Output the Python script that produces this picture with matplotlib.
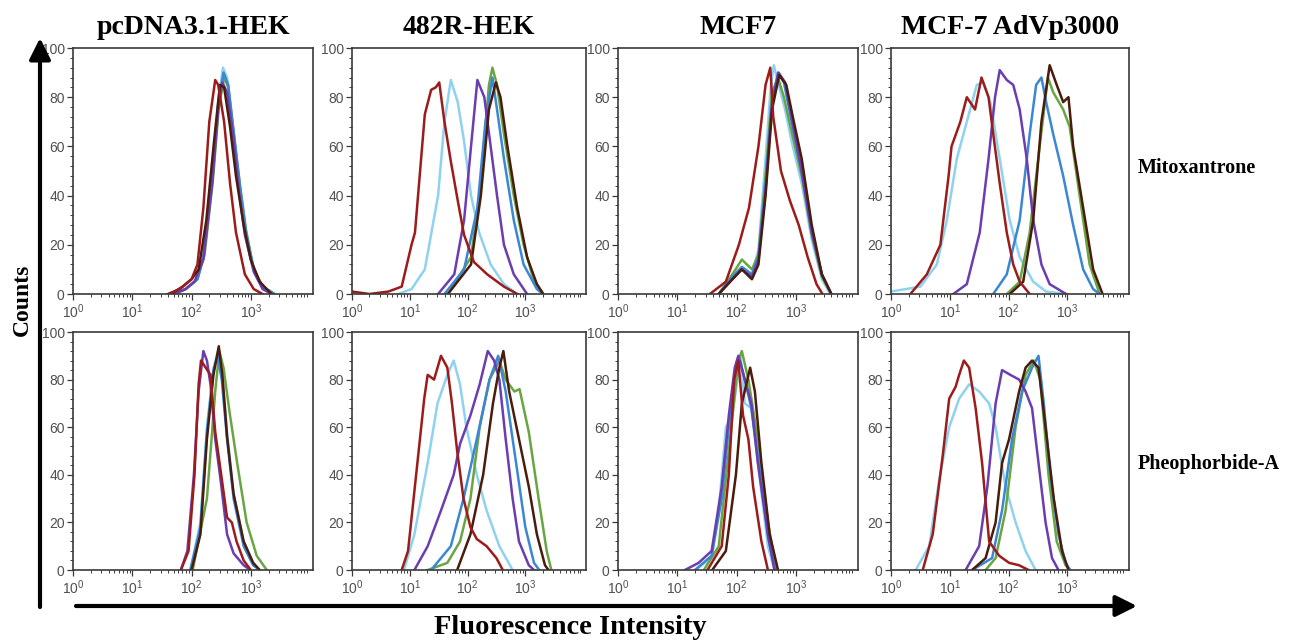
"""
Flow cytometry histograms: mitoxantrone / pheophorbide-A efflux
in pcDNA3.1-HEK, 482R-HEK, MCF7 and MCF-7 AdVp3000 cells.
Curves are read off the published figure as (log10 intensity, counts).
"""

import matplotlib
matplotlib.use("Agg")
import matplotlib.pyplot as plt
from matplotlib.patches import FancyArrowPatch
from matplotlib.ticker import MultipleLocator, LogLocator, FixedLocator, NullFormatter

plt.rcParams["font.family"] = ["Liberation Sans", "DejaVu Sans"]
plt.rcParams["mathtext.fontset"] = "custom"
plt.rcParams["mathtext.rm"] = "Liberation Sans"
plt.rcParams["mathtext.it"] = "Liberation Sans"

# column / row labels
cell_lines = ["pcDNA3.1-HEK", "482R-HEK", "MCF7", "MCF-7 AdVp3000"]
substrates = ["Mitoxantrone", "Pheophorbide-A"]
x_ticklabels = [r"$10^0$", r"$10^1$", r"$10^2$", r"$10^3$"]

COLORS = {
    "lightblue": "#8fd2ef",
    "green": "#6aa544",
    "blue": "#3b87d4",
    "purple": "#6a3db0",
    "brown": "#4a1c0c",
    "red": "#9c1c1c",
}

# --- Mitoxantrone row ---
pcdna_mito = {
    "lightblue": ([1.7, 1.9, 2.1, 2.2, 2.35, 2.45, 2.53, 2.6, 2.7, 2.8, 2.9, 3.05, 3.2, 3.4],
                  [0, 2, 6, 16, 48, 78, 92, 88, 66, 44, 26, 10, 3, 0]),
    "green": ([1.7, 1.9, 2.1, 2.22, 2.36, 2.46, 2.55, 2.62, 2.72, 2.82, 2.92, 3.05, 3.2, 3.4],
              [0, 2, 6, 16, 46, 76, 88, 84, 64, 44, 26, 10, 3, 0]),
    "blue": ([1.7, 1.9, 2.1, 2.2, 2.35, 2.45, 2.54, 2.62, 2.72, 2.82, 2.92, 3.05, 3.2, 3.4],
             [0, 2, 6, 15, 47, 77, 90, 85, 64, 43, 25, 10, 3, 0]),
    "purple": ([1.7, 1.9, 2.05, 2.2, 2.35, 2.45, 2.52, 2.6, 2.7, 2.8, 2.9, 3.05, 3.2, 3.35],
               [0, 2, 5, 14, 45, 75, 86, 82, 65, 42, 24, 9, 2, 0]),
    "brown": ([1.65, 1.85, 2.0, 2.12, 2.25, 2.38, 2.48, 2.55, 2.65, 2.75, 2.88, 3.0, 3.15, 3.35],
              [0, 3, 6, 10, 30, 62, 85, 84, 68, 48, 28, 14, 5, 0]),
    "red": ([1.6, 1.8, 2.0, 2.1, 2.2, 2.3, 2.4, 2.45, 2.55, 2.65, 2.75, 2.9, 3.05, 3.2],
            [0, 2, 6, 12, 35, 70, 87, 85, 70, 45, 25, 8, 2, 0]),
}

hek482_mito = {
    "lightblue": ([0.8, 1.03, 1.26, 1.49, 1.6, 1.71, 1.83, 1.94, 2.06, 2.2, 2.4, 2.63, 2.86],
                  [0, 2, 10, 40, 70, 87, 78, 62, 40, 25, 12, 4, 0]),
    "green": ([1.66, 2.06, 2.23, 2.37, 2.43, 2.51, 2.63, 2.8, 2.97, 3.14, 3.31],
              [0, 15, 45, 85, 92, 85, 65, 40, 20, 6, 0]),
    "blue": ([1.6, 1.94, 2.17, 2.31, 2.43, 2.51, 2.63, 2.8, 2.97, 3.2, 3.3],
             [0, 10, 35, 70, 88, 75, 55, 30, 12, 2, 0]),
    "purple": ([1.49, 1.77, 1.94, 2.06, 2.17, 2.29, 2.4, 2.51, 2.63, 2.8, 3.03],
               [0, 8, 30, 60, 87, 80, 60, 40, 20, 8, 0]),
    "brown": ([1.66, 2.06, 2.23, 2.37, 2.49, 2.57, 2.69, 2.86, 3.03, 3.2, 3.31],
              [0, 12, 40, 75, 86, 80, 60, 35, 15, 4, 0]),
    "red": ([0.0, 0.3, 0.63, 0.86, 1.03, 1.09, 1.26, 1.37, 1.45, 1.51, 1.6, 1.71, 1.83, 1.94, 2.11, 2.34, 2.63, 2.86],
            [1, 0, 1, 3, 20, 25, 73, 83, 84, 86, 70, 54, 38, 24, 13, 8, 3, 0]),
}

mcf7_mito = {
    "lightblue": ([1.7, 1.93, 2.09, 2.26, 2.37, 2.49, 2.58, 2.63, 2.71, 2.82, 2.93, 3.1, 3.27, 3.44, 3.58],
                  [0, 7, 11, 8, 18, 55, 85, 93, 85, 75, 62, 45, 22, 6, 0]),
    "green": ([1.7, 1.93, 2.09, 2.26, 2.37, 2.49, 2.6, 2.7, 2.8, 2.93, 3.1, 3.27, 3.44, 3.6],
              [0, 8, 14, 10, 16, 48, 82, 88, 80, 66, 48, 24, 7, 0]),
    "blue": ([1.7, 1.93, 2.09, 2.26, 2.37, 2.49, 2.6, 2.7, 2.8, 2.93, 3.1, 3.27, 3.44, 3.6],
             [0, 7, 11, 8, 15, 45, 78, 90, 86, 70, 50, 25, 8, 0]),
    "purple": ([1.7, 1.93, 2.09, 2.26, 2.37, 2.49, 2.6, 2.71, 2.82, 2.93, 3.1, 3.27, 3.44, 3.6],
               [0, 6, 10, 7, 14, 42, 78, 90, 86, 72, 50, 25, 8, 0]),
    "brown": ([1.7, 1.93, 2.09, 2.26, 2.37, 2.49, 2.6, 2.72, 2.84, 2.95, 3.1, 3.27, 3.44, 3.6],
              [0, 6, 10, 6, 12, 40, 75, 89, 85, 72, 55, 28, 8, 0]),
    "red": ([1.55, 1.82, 2.04, 2.21, 2.37, 2.49, 2.57, 2.62, 2.75, 2.9, 3.05, 3.2, 3.35, 3.45],
            [0, 5, 20, 35, 60, 85, 92, 72, 50, 38, 28, 15, 4, 0]),
}

advp_mito = {
    "lightblue": ([0.0, 0.5, 0.78, 0.95, 1.12, 1.29, 1.46, 1.57, 1.69, 1.85, 2.02, 2.19, 2.42, 2.64, 2.98],
                  [1, 3, 12, 30, 55, 70, 85, 86, 78, 55, 30, 15, 5, 1, 0]),
    "green": ([1.97, 2.19, 2.36, 2.53, 2.67, 2.76, 2.93, 3.04, 3.21, 3.38, 3.55],
              [0, 5, 25, 60, 88, 82, 75, 68, 40, 12, 0]),
    "blue": ([1.74, 1.97, 2.19, 2.36, 2.47, 2.56, 2.64, 2.76, 2.93, 3.1, 3.27, 3.44, 3.55],
             [0, 8, 30, 65, 85, 88, 78, 65, 48, 28, 10, 2, 0]),
    "purple": ([1.06, 1.29, 1.51, 1.66, 1.77, 1.85, 1.97, 2.08, 2.19, 2.31, 2.42, 2.56, 2.7, 2.98],
               [0, 4, 25, 55, 80, 91, 87, 85, 75, 55, 30, 12, 4, 0]),
    "brown": ([2.02, 2.25, 2.42, 2.56, 2.7, 2.82, 2.93, 3.02, 3.1, 3.27, 3.44, 3.6],
              [0, 5, 30, 70, 93, 85, 78, 80, 60, 35, 10, 0]),
    "red": ([0.33, 0.61, 0.84, 0.98, 1.03, 1.18, 1.29, 1.43, 1.54, 1.66, 1.74, 1.85, 1.97, 2.08, 2.19, 2.36],
            [0, 8, 20, 48, 60, 70, 80, 75, 88, 80, 65, 45, 25, 12, 5, 0]),
}

# --- Pheophorbide-A row ---
pcdna_pheo = {
    "lightblue": ([1.98, 2.15, 2.26, 2.37, 2.45, 2.52, 2.6, 2.71, 2.88, 3.04, 3.15],
                  [0, 20, 60, 85, 92, 82, 58, 32, 12, 3, 0]),
    "green": ([2.02, 2.26, 2.4, 2.47, 2.54, 2.65, 2.77, 2.93, 3.1, 3.27],
              [0, 30, 75, 92, 85, 65, 45, 20, 6, 0]),
    "blue": ([1.98, 2.15, 2.26, 2.37, 2.44, 2.51, 2.6, 2.71, 2.88, 3.04, 3.15],
             [0, 18, 58, 84, 90, 80, 55, 30, 10, 2, 0]),
    "purple": ([1.82, 1.93, 2.04, 2.12, 2.2, 2.26, 2.32, 2.4, 2.49, 2.6, 2.71, 2.88, 2.99],
               [0, 8, 40, 75, 92, 88, 78, 55, 38, 15, 7, 2, 0]),
    "brown": ([2.0, 2.15, 2.26, 2.37, 2.46, 2.52, 2.6, 2.71, 2.88, 3.04, 3.15],
              [0, 15, 55, 82, 94, 82, 56, 32, 12, 3, 0]),
    "red": ([1.82, 1.95, 2.05, 2.12, 2.16, 2.24, 2.32, 2.4, 2.49, 2.6, 2.68, 2.76, 2.88, 3.0],
            [0, 8, 40, 78, 88, 85, 82, 58, 42, 22, 20, 12, 4, 0]),
}

hek482_pheo = {
    "lightblue": ([0.9, 1.08, 1.31, 1.48, 1.65, 1.76, 1.87, 1.98, 2.16, 2.33, 2.55, 2.78],
                  [0, 15, 45, 70, 82, 88, 78, 60, 40, 25, 10, 0]),
    "green": ([1.31, 1.65, 1.87, 2.05, 2.21, 2.38, 2.55, 2.66, 2.81, 2.9, 3.06, 3.23, 3.37, 3.45],
              [0, 3, 12, 30, 60, 80, 88, 80, 75, 76, 58, 30, 8, 0]),
    "blue": ([1.37, 1.71, 1.93, 2.16, 2.38, 2.53, 2.66, 2.84, 3.0, 3.15, 3.24],
             [0, 10, 30, 55, 80, 90, 75, 45, 18, 3, 0]),
    "purple": ([1.08, 1.31, 1.54, 1.76, 1.87, 2.05, 2.21, 2.35, 2.46, 2.55, 2.66, 2.78, 2.89, 3.06, 3.15],
               [0, 10, 25, 40, 53, 65, 78, 92, 88, 80, 55, 30, 12, 2, 0]),
    "brown": ([1.82, 2.05, 2.27, 2.44, 2.55, 2.62, 2.72, 2.89, 3.06, 3.2, 3.34, 3.4],
              [0, 15, 40, 70, 85, 92, 75, 55, 35, 15, 2, 0]),
    "red": ([0.86, 0.97, 1.11, 1.25, 1.31, 1.42, 1.54, 1.65, 1.73, 1.82, 1.93, 2.05, 2.16, 2.33, 2.5, 2.61],
            [0, 8, 40, 72, 82, 80, 90, 85, 70, 50, 30, 18, 13, 10, 5, 0]),
}

mcf7_pheo = {
    "lightblue": ([1.3, 1.58, 1.7, 1.82, 1.93, 2.07, 2.14, 2.25, 2.36, 2.53, 2.64],
                  [0, 5, 25, 60, 65, 90, 70, 68, 45, 10, 0]),
    "green": ([1.45, 1.7, 1.87, 2.03, 2.09, 2.2, 2.36, 2.53, 2.67],
              [0, 10, 50, 88, 92, 80, 55, 20, 0]),
    "blue": ([1.3, 1.58, 1.75, 1.87, 1.97, 2.06, 2.14, 2.25, 2.36, 2.53, 2.65],
             [0, 6, 30, 60, 82, 88, 80, 68, 48, 14, 0]),
    "purple": ([1.13, 1.36, 1.58, 1.75, 1.87, 1.97, 2.03, 2.14, 2.25, 2.36, 2.53, 2.64],
               [0, 3, 8, 35, 65, 85, 90, 80, 70, 45, 15, 0]),
    "brown": ([1.59, 1.82, 1.99, 2.09, 2.23, 2.31, 2.42, 2.56, 2.7],
              [0, 8, 40, 70, 85, 75, 45, 15, 0]),
    "red": ([1.51, 1.75, 1.87, 1.96, 2.03, 2.11, 2.2, 2.28, 2.42, 2.53],
            [0, 10, 40, 80, 88, 65, 55, 35, 12, 0]),
}

advp_pheo = {
    "lightblue": ([0.42, 0.65, 0.82, 0.99, 1.16, 1.33, 1.5, 1.67, 1.78, 1.95, 2.12, 2.29, 2.46],
                  [0, 10, 38, 60, 72, 78, 75, 70, 60, 35, 20, 8, 0]),
    "green": ([1.61, 1.78, 1.95, 2.12, 2.29, 2.43, 2.54, 2.68, 2.82, 2.97, 3.05],
              [0, 5, 25, 60, 82, 88, 80, 40, 12, 2, 0]),
    "blue": ([1.38, 1.72, 1.89, 2.06, 2.23, 2.4, 2.51, 2.6, 2.71, 2.85, 2.97, 3.05],
             [0, 5, 25, 55, 75, 85, 90, 70, 40, 15, 3, 0]),
    "purple": ([1.27, 1.5, 1.64, 1.78, 1.89, 2.03, 2.18, 2.29, 2.4, 2.51, 2.63, 2.74, 2.85],
               [0, 10, 35, 70, 84, 82, 80, 75, 68, 45, 20, 5, 0]),
    "brown": ([1.38, 1.61, 1.78, 1.89, 2.01, 2.18, 2.29, 2.4, 2.51, 2.63, 2.77, 2.91, 3.02],
              [0, 5, 20, 45, 55, 75, 85, 88, 85, 60, 30, 8, 0]),
    "red": ([0.54, 0.71, 0.88, 0.99, 1.1, 1.16, 1.24, 1.33, 1.44, 1.55, 1.67, 1.84, 2.01, 2.18, 2.34],
            [0, 15, 48, 72, 77, 82, 88, 85, 68, 45, 12, 6, 3, 2, 0]),
}

panels = [
    [pcdna_mito, hek482_mito, mcf7_mito, advp_mito],
    [pcdna_pheo, hek482_pheo, mcf7_pheo, advp_pheo],
]

W, H = 1297, 643
fig = plt.figure(figsize=(W / 100, H / 100), dpi=100)

# panel boxes in pixels (left, width) and (top, bottom)
col_px = [(73, 240), (352, 234), (618, 240), (891, 238)]
row_px = [(48, 294), (332, 570)]

frame_col = "#3a3a3a"
tick_col = "#505050"

for r, (top, bot) in enumerate(row_px):
    for c, (left, width) in enumerate(col_px):
        ax = fig.add_axes([left / W, 1 - bot / H, width / W, (bot - top) / H])
        for name in COLORS:
            lx, cnt = panels[r][c][name]
            ax.plot([10 ** v for v in lx], cnt, color=COLORS[name], lw=1.8,
                    solid_joinstyle="round")
        ax.set_xscale("log")
        ax.set_xlim(1, 10 ** 4.05)
        ax.set_ylim(0, 100)
        ax.xaxis.set_major_locator(FixedLocator([1, 10, 100, 1000]))
        ax.set_xticklabels(x_ticklabels)
        ax.xaxis.set_minor_locator(LogLocator(base=10, subs=range(2, 10), numticks=20))
        ax.xaxis.set_minor_formatter(NullFormatter())
        ax.yaxis.set_major_locator(MultipleLocator(20))
        ax.yaxis.set_minor_locator(MultipleLocator(4))
        ax.tick_params(which="major", direction="out", length=4, width=0.9,
                       colors=frame_col, labelcolor=tick_col, labelsize=10, pad=2)
        ax.tick_params(which="minor", direction="out", length=2, width=0.7,
                       colors=frame_col)
        for sp in ax.spines.values():
            sp.set_color(frame_col)
            sp.set_linewidth(1.2)

# column titles
for c, (left, width) in enumerate(col_px):
    fig.text((left + width / 2) / W, 1 - 28 / H, cell_lines[c], ha="center",
             va="center", family="Liberation Serif", weight="bold", fontsize=20)

# row labels
for r, yc in enumerate([168, 464]):
    fig.text(1138 / W, 1 - yc / H, substrates[r], ha="left", va="center",
             family="Liberation Serif", weight="bold", fontsize=14.5)

fig.text(22 / W, 1 - 300 / H, "Counts", rotation=90, ha="center", va="center",
         family="Liberation Serif", weight="bold", fontsize=17)
fig.text(570 / W, 1 - 627 / H, "Fluorescence Intensity", ha="center", va="center",
         family="Liberation Serif", weight="bold", fontsize=20.5)

# axis arrows
for start, end in [((40, 607), (40, 38)), ((76, 606), (1137, 606))]:
    arr = FancyArrowPatch((start[0] / W, 1 - start[1] / H), (end[0] / W, 1 - end[1] / H),
                          transform=fig.transFigure, arrowstyle="-|>,head_length=8,head_width=4",
                          mutation_scale=1.6, lw=3, color="black", shrinkA=0, shrinkB=0)
    fig.add_artist(arr)

fig.savefig("out.png", dpi=100)
